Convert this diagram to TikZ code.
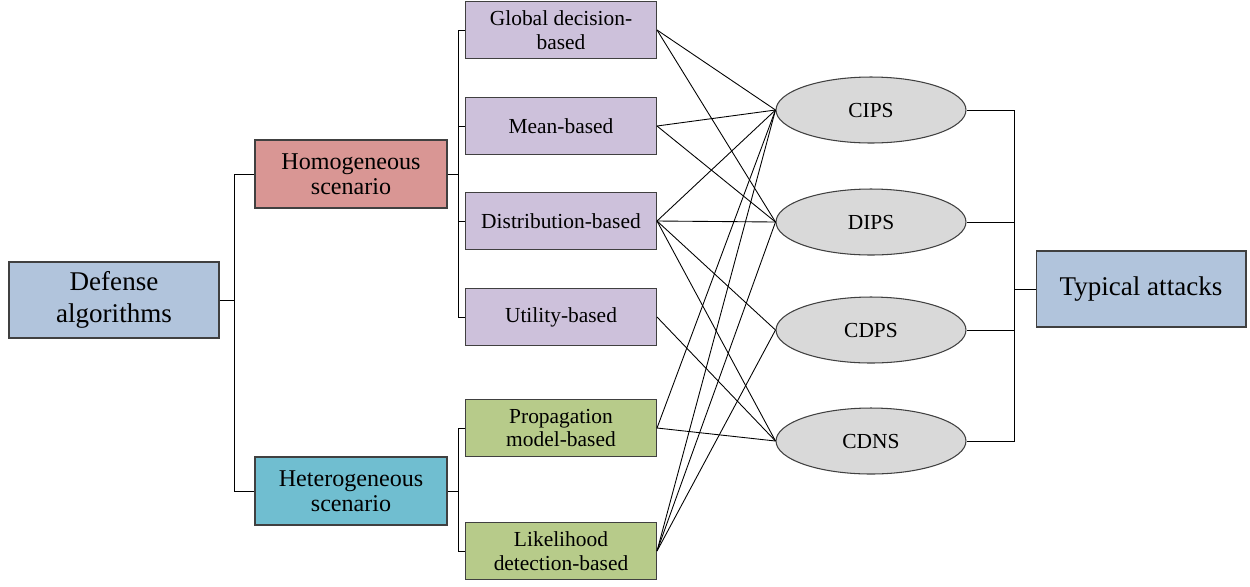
\documentclass[tikz,border=0pt]{standalone}
\usepackage{fontspec}
\setmainfont{Liberation Serif}
\usepackage{xcolor}
\usetikzlibrary{shapes.geometric}

\definecolor{blueb}{RGB}{177,196,220}
\definecolor{redb}{RGB}{217,150,148}
\definecolor{cyanb}{RGB}{112,190,208}
\definecolor{lilac}{RGB}{205,193,219}
\definecolor{olive}{RGB}{183,203,138}
\definecolor{greyb}{RGB}{217,217,217}
\definecolor{edge}{RGB}{64,64,64}

\tikzset{
  box/.style={draw=edge, line width=0.6pt, align=center, inner sep=0pt},
  bigbox/.style={box, fill=blueb, minimum width=4.2cm, minimum height=1.52cm,
    font=\fontsize{15.4}{18}\selectfont},
  midbox/.style={box, minimum width=3.84cm, minimum height=1.36cm,
    font=\fontsize{13.7}{14.4}\selectfont},
  leaf/.style={box, minimum width=3.82cm, minimum height=1.14cm,
    font=\fontsize{12.2}{13.4}\selectfont},
  attack/.style={ellipse, draw=edge, line width=0.6pt, fill=greyb, inner sep=0pt,
    minimum width=3.8cm, minimum height=1.32cm, font=\fontsize{12.2}{13.4}\selectfont},
  wire/.style={line width=0.5pt, black}
}

\begin{document}
\begin{tikzpicture}[x=0.02cm, y=-0.02cm]
\useasboundingbox (0,0) rectangle (1250,586);

% left part
\node[bigbox] (def) at (114,300) {Defense\\algorithms};
\node[midbox, fill=redb] (hom) at (351,174) {Homogeneous\\scenario};
\node[midbox, fill=cyanb] (het) at (351,491) {Heterogeneous\\scenario};

\node[leaf, fill=lilac] (gdb) at (561,30) {Global decision-\\based};
\node[leaf, fill=lilac] (mb) at (561,126) {Mean-based};
\node[leaf, fill=lilac] (db) at (561,221) {Distribution-based};
\node[leaf, fill=lilac] (ub) at (561,317) {Utility-based};
\node[leaf, fill=olive] (pmb) at (561,428) {Propagation\\model-based};
\node[leaf, fill=olive] (ldb) at (561,551) {Likelihood\\detection-based};

% right part
\node[attack] (cips) at (871,110) {CIPS};
\node[attack] (dips) at (871,222) {DIPS};
\node[attack] (cdps) at (871,330) {CDPS};
\node[attack] (cdns) at (871,441) {CDNS};
\node[bigbox] (ta) at (1141,289) {Typical attacks};

% tree lines
\draw[wire] (def.east) -- ++(15,0) coordinate (b1);
\draw[wire] (b1) |- (hom.west);
\draw[wire] (b1) |- (het.west);
\draw[wire] (hom.east) -- ++(11,0) coordinate (b2);
\foreach \n in {gdb,mb,db,ub}
  \draw[wire] (b2) |- (\n.west);
\draw[wire] (het.east) -- ++(11,0) coordinate (b3);
\foreach \n in {pmb,ldb}
  \draw[wire] (b3) |- (\n.west);

% crossing links
\foreach \a/\b in {gdb/cips,gdb/dips,mb/cips,mb/dips,db/cips,db/dips,db/cdps,db/cdns,
  ub/cdns,pmb/cips,pmb/cdns,ldb/cips,ldb/dips,ldb/cdps}
  \draw[wire] (\a.east) -- (\b.west);

% to typical attacks
\coordinate (b4) at (1014,289);
\foreach \n in {cips,dips,cdps,cdns}
  \draw[wire] (\n.east) -| (b4);
\draw[wire] (b4) -- (ta.west);
\end{tikzpicture}
\end{document}
